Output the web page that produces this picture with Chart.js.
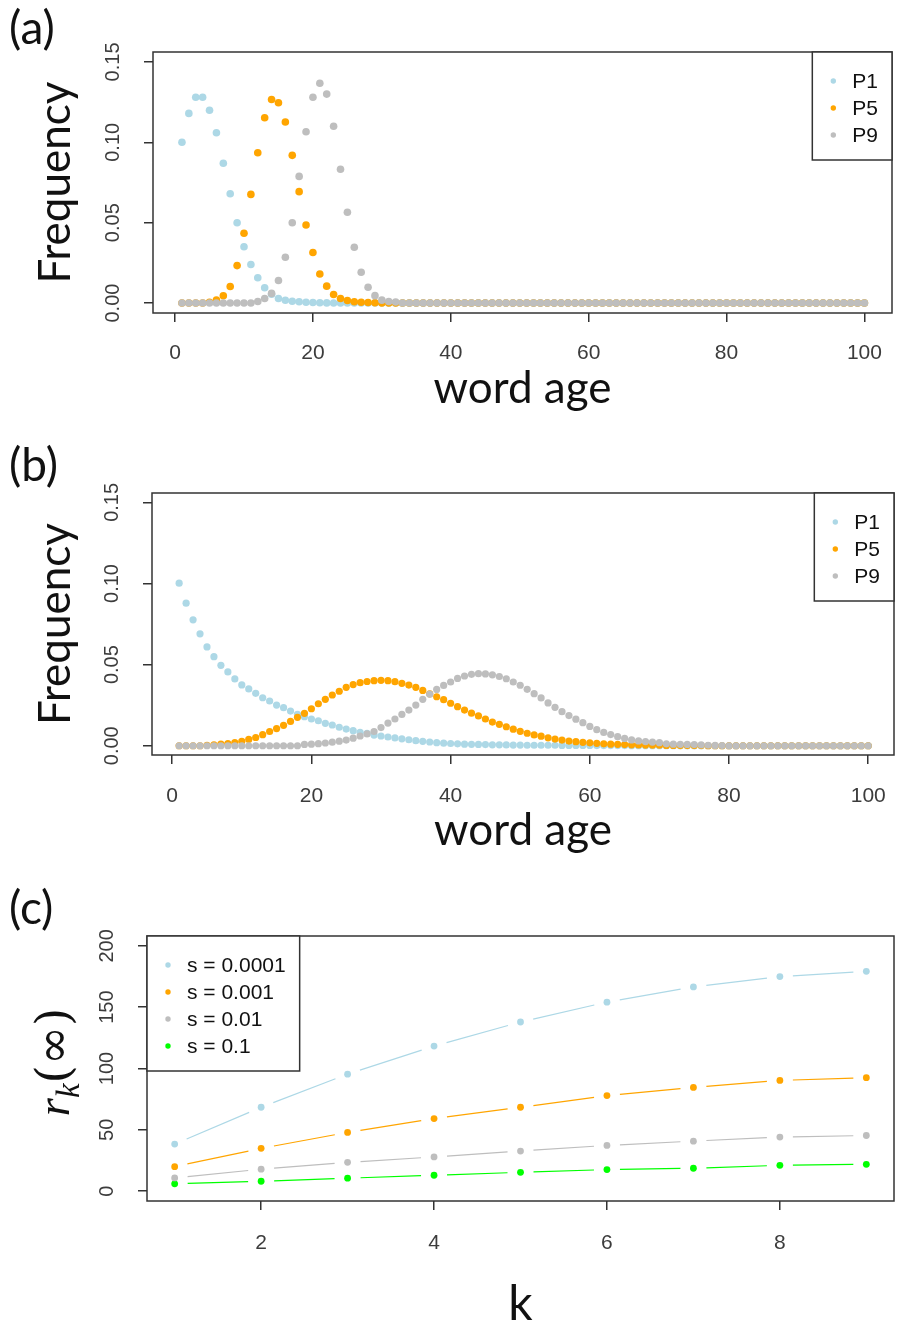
<!DOCTYPE html>
<html>
<head>
<meta charset="utf-8">
<script src="https://cdn.jsdelivr.net/npm/chart.js@4.4.1/dist/chart.umd.min.js"></script>
<style>
  html, body { margin: 0; padding: 0; background: #fff; overflow: hidden; }
  body { width: 898px; height: 1329px; position: relative; }
  canvas { position: absolute; left: 0; }
  .tag { position: absolute; left: 9px; font-family: Lato, sans-serif; font-size: 46px; line-height: 46px; color: #111; }
  #rkTitle { position: absolute; left: 57px; top: 1062px; transform: translate(-50%, -50%) rotate(-90deg);
             white-space: nowrap; line-height: 1; font-size: 47px; color: #111; }
  #rkTitle .it { font-family: "Liberation Serif", serif; font-style: italic; }
  #rkTitle sub { font-size: 33px; }
  #rkTitle .par { font-family: "DejaVu Serif", serif; }
</style>
</head>
<body>
<canvas id="panelA" width="898" height="430" style="top:0px"></canvas>
<canvas id="panelB" width="898" height="430" style="top:440px"></canvas>
<canvas id="panelC" width="898" height="460" style="top:880px"></canvas>
<div class="tag" style="top:4px">(a)</div>
<div class="tag" style="top:441px">(b)</div>
<div class="tag" style="top:884px">(c)</div>
<div id="rkTitle"><span class="it">r</span><sub class="it">k</sub><span class="par">(∞)</span></div>
<script>
// word ages 1..100 (x positions of panels a and b)
const ages = [];
for (let i = 1; i <= 100; i++) ages.push(i);

const seriesNames = ['P1', 'P5', 'P9'];
const seriesColors = ['#ADD8E6', '#FFA500', '#BEBEBE'];

// panel (a)
const p1A = [
  0.100, 0.118, 0.128, 0.128, 0.120, 0.106, 0.087, 0.068, 0.050, 0.035,
  0.024, 0.0157, 0.0095, 0.0055, 0.0028, 0.0017, 0.0011, 0.0008, 0.0005, 0.0003,
  0.0002, 0.0001, 0, 0, 0, 0, 0, 0, 0, 0,
  0, 0, 0, 0, 0, 0, 0, 0, 0, 0,
  0, 0, 0, 0, 0, 0, 0, 0, 0, 0,
  0, 0, 0, 0, 0, 0, 0, 0, 0, 0,
  0, 0, 0, 0, 0, 0, 0, 0, 0, 0,
  0, 0, 0, 0, 0, 0, 0, 0, 0, 0,
  0, 0, 0, 0, 0, 0, 0, 0, 0, 0,
  0, 0, 0, 0, 0, 0, 0, 0, 0, 0
];
const p5A = [
  0, 0, 0, 0, 0.0005, 0.0018, 0.0045, 0.0103, 0.0233, 0.0434,
  0.0676, 0.0935, 0.1153, 0.1266, 0.1246, 0.1126, 0.0919, 0.0693, 0.0486, 0.0314,
  0.0181, 0.0105, 0.0053, 0.0028, 0.0016, 0.0008, 0.0005, 0.0003, 0.0002, 0.0001,
  0.0001, 0.0001, 0, 0, 0, 0, 0, 0, 0, 0,
  0, 0, 0, 0, 0, 0, 0, 0, 0, 0,
  0, 0, 0, 0, 0, 0, 0, 0, 0, 0,
  0, 0, 0, 0, 0, 0, 0, 0, 0, 0,
  0, 0, 0, 0, 0, 0, 0, 0, 0, 0,
  0, 0, 0, 0, 0, 0, 0, 0, 0, 0,
  0, 0, 0, 0, 0, 0, 0, 0, 0, 0
];
const p9A = [
  0, 0, 0, 0, 0, 0, 0, 0, 0, 0,
  0, 0.001, 0.0028, 0.006, 0.014, 0.0285, 0.050, 0.0788, 0.1066, 0.128,
  0.1368, 0.130, 0.110, 0.0832, 0.0565, 0.0347, 0.0192, 0.0098, 0.0046, 0.0018,
  0.001, 0.0006, 0, 0, 0, 0, 0, 0, 0, 0,
  0, 0, 0, 0, 0, 0, 0, 0, 0, 0,
  0, 0, 0, 0, 0, 0, 0, 0, 0, 0,
  0, 0, 0, 0, 0, 0, 0, 0, 0, 0,
  0, 0, 0, 0, 0, 0, 0, 0, 0, 0,
  0, 0, 0, 0, 0, 0, 0, 0, 0, 0,
  0, 0, 0, 0, 0, 0, 0, 0, 0, 0
];

// panel (b)
const p1B = [
  0.1002, 0.0879, 0.0776, 0.0690, 0.0609, 0.0549, 0.0496, 0.0455, 0.0412, 0.0375,
  0.0350, 0.0323, 0.0296, 0.0276, 0.0251, 0.0235, 0.0214, 0.0194, 0.0179, 0.0165,
  0.0154, 0.0138, 0.0128, 0.0114, 0.0103, 0.0093, 0.0083, 0.0076, 0.0066, 0.0060,
  0.0054, 0.0048, 0.0043, 0.0037, 0.0031, 0.0027, 0.0023, 0.0019, 0.0016, 0.0014,
  0.0012, 0.0010, 0.0009, 0.0008, 0.0007, 0.0006, 0.0006, 0.0005, 0.0004, 0.0004,
  0.0003, 0.0003, 0.0003, 0.0003, 0.0003, 0.0002, 0.0002, 0.0002, 0.0002, 0.0002,
  0.0001, 0.0001, 0.0001, 0.0001, 0.0001, 0, 0, 0, 0, 0,
  0, 0, 0, 0, 0, 0, 0, 0, 0, 0,
  0, 0, 0, 0, 0, 0, 0, 0, 0, 0,
  0, 0, 0, 0, 0, 0, 0, 0, 0, 0
];
const p5B = [
  0, 0, 0, 0, 0.0003, 0.0006, 0.0010, 0.0014, 0.0019, 0.0027,
  0.0039, 0.0051, 0.0068, 0.0088, 0.0106, 0.0126, 0.0150, 0.0175, 0.0200, 0.0228,
  0.0259, 0.0286, 0.0313, 0.0336, 0.0360, 0.0377, 0.0389, 0.0396, 0.0401, 0.0403,
  0.0401, 0.0395, 0.0385, 0.0374, 0.0360, 0.0341, 0.0320, 0.0302, 0.0284, 0.0262,
  0.0241, 0.0220, 0.0201, 0.0184, 0.0165, 0.0146, 0.0132, 0.0117, 0.0102, 0.0089,
  0.0077, 0.0067, 0.0059, 0.0049, 0.0041, 0.0035, 0.0029, 0.0025, 0.0021, 0.0018,
  0.0015, 0.0012, 0.0010, 0.0009, 0.0007, 0.0006, 0.0005, 0.0004, 0.0003, 0.0003,
  0.0002, 0.0002, 0.0001, 0.0001, 0.0001, 0.0001, 0, 0, 0, 0,
  0, 0, 0, 0, 0, 0, 0, 0, 0, 0,
  0, 0, 0, 0, 0, 0, 0, 0, 0, 0
];
const p9B = [
  0, 0, 0, 0, 0, 0, 0, 0, 0, 0,
  0, 0, 0, 0, 0, 0, 0, 0, 0.0008, 0.0010,
  0.0013, 0.0017, 0.0022, 0.0028, 0.0035, 0.0047, 0.0060, 0.0073, 0.0088, 0.0112,
  0.0140, 0.0165, 0.0193, 0.0220, 0.0251, 0.0286, 0.0318, 0.0347, 0.0372, 0.0393,
  0.0415, 0.0430, 0.0440, 0.0444, 0.0443, 0.0437, 0.0427, 0.0413, 0.0393, 0.0373,
  0.0348, 0.0321, 0.0295, 0.0264, 0.0237, 0.0210, 0.0186, 0.0164, 0.0142, 0.0119,
  0.0099, 0.0082, 0.0069, 0.0056, 0.0045, 0.0036, 0.0030, 0.0026, 0.0022, 0.0019,
  0.0012, 0.0010, 0.0009, 0.0008, 0.0007, 0.0006, 0.0003, 0.0002, 0.0001, 0,
  0, 0, 0, 0, 0, 0, 0, 0, 0, 0,
  0, 0, 0, 0, 0, 0, 0, 0, 0, 0
];

const ageTicks = [0, 20, 40, 60, 80, 100];
const freqTicks = [0, 0.05, 0.10, 0.15];
const freqTickLabels = ['0.00', '0.05', '0.10', '0.15'];

// panel (c)
const kValues = [1, 2, 3, 4, 5, 6, 7, 8, 9];
const sLabels = ['s = 0.0001', 's = 0.001', 's = 0.01', 's = 0.1'];
const sColors = ['#ADD8E6', '#FFA500', '#BEBEBE', '#00FF00'];
const rS0001 = [38.4, 68.4, 95.4, 118.3, 137.9, 154.1, 166.5, 174.9, 179.2];
const rS001  = [20.0, 34.9, 47.9, 59.2, 68.4, 77.9, 84.6, 90.3, 92.5];
const rS01   = [10.8, 17.9, 23.5, 27.9, 32.7, 37.3, 40.8, 44.1, 45.4];
const rS1    = [6.0, 8.1, 10.6, 13.0, 15.4, 17.6, 18.7, 21.1, 21.9];
const kTicks = [2, 4, 6, 8];
const rTicks = [0, 50, 100, 150, 200];
const rTickLabels = ['0', '50', '100', '150', '200'];

const TICK_FONT = { family: '"Liberation Sans", Arial, sans-serif', size: 21 };
const TITLE_FAMILY = 'Lato, "Open Sans", sans-serif';
const INK = '#333';

function xy(xs, ys) {
  return xs.map((x, i) => ({ x: x, y: ys[i] }));
}

// plot frame
const framePlugin = {
  id: 'frame',
  afterDraw(chart) {
    const { ctx, chartArea: a } = chart;
    ctx.save();
    ctx.strokeStyle = INK;
    ctx.lineWidth = 1.5;
    ctx.strokeRect(a.left, a.top, a.right - a.left, a.bottom - a.top);
    ctx.restore();
  }
};

// vertical-reading y tick labels
const sideLabels = {
  id: 'sideLabels',
  afterDraw(chart, args, opts) {
    const y = chart.scales.y;
    const ctx = chart.ctx;
    ctx.save();
    ctx.font = '20px ' + TICK_FONT.family;
    ctx.fillStyle = '#3c3c3c';
    ctx.textAlign = 'center';
    ctx.textBaseline = 'middle';
    y.ticks.forEach((t, i) => {
      ctx.save();
      ctx.translate(chart.chartArea.left - opts.offset, y.getPixelForValue(t.value));
      ctx.rotate(-Math.PI / 2);
      ctx.fillText(opts.labels[i], 0, 0);
      ctx.restore();
    });
    ctx.restore();
  }
};

// boxed legend in a plot corner
const boxLegend = {
  id: 'boxLegend',
  afterDraw(chart, args, opts) {
    const { ctx, chartArea: a } = chart;
    const items = chart.data.datasets.filter(d => d.label);
    ctx.save();
    ctx.font = '21px "Liberation Sans", Arial, sans-serif';
    const textW = Math.max(...items.map(d => ctx.measureText(d.label).width));
    const w = 40 + textW + 14;
    const h = 29 + 27 * (items.length - 1) + 25;
    const left = opts.side === 'right' ? a.right - w : a.left;
    const top = a.top;
    ctx.fillStyle = '#fff';
    ctx.fillRect(left, top, w, h);
    ctx.strokeStyle = INK;
    ctx.lineWidth = 1.5;
    ctx.strokeRect(left, top, w, h);
    ctx.textBaseline = 'middle';
    items.forEach((d, i) => {
      const cy = top + 29 + 27 * i;
      ctx.fillStyle = d.pointBackgroundColor;
      ctx.beginPath();
      ctx.arc(left + 21, cy, 2.7, 0, Math.PI * 2);
      ctx.fill();
      ctx.fillStyle = '#111';
      ctx.fillText(d.label, left + 40, cy + 1);
    });
    ctx.restore();
  }
};

// line segments that stop short of each point
const gapLines = {
  id: 'gapLines',
  beforeDatasetsDraw(chart, args, opts) {
    if (!opts.gap) return;
    const ctx = chart.ctx;
    ctx.save();
    ctx.lineWidth = 1.2;
    chart.data.datasets.forEach((ds, i) => {
      const pts = chart.getDatasetMeta(i).data;
      ctx.strokeStyle = ds.pointBackgroundColor;
      for (let j = 0; j + 1 < pts.length; j++) {
        const p = pts[j], q = pts[j + 1];
        const dx = q.x - p.x, dy = q.y - p.y;
        const len = Math.hypot(dx, dy);
        if (len <= 2 * opts.gap) continue;
        const ux = dx / len, uy = dy / len;
        ctx.beginPath();
        ctx.moveTo(p.x + ux * opts.gap, p.y + uy * opts.gap);
        ctx.lineTo(q.x - ux * opts.gap, q.y - uy * opts.gap);
        ctx.stroke();
      }
    });
    ctx.restore();
  }
};

function panel(id, p) {
  const tickGrid = { display: true, drawOnChartArea: false, drawTicks: true, tickLength: 9, color: INK, lineWidth: 1.5 };
  return new Chart(document.getElementById(id), {
    type: 'scatter',
    data: { datasets: p.datasets },
    options: {
      responsive: false,
      animation: false,
      devicePixelRatio: 1,
      events: [],
      layout: { padding: p.padding },
      plugins: {
        legend: { display: false },
        tooltip: { enabled: false },
        sideLabels: { offset: 40, labels: p.yLabels },
        boxLegend: { side: p.legendSide },
        gapLines: { gap: p.gap || 0 }
      },
      scales: {
        x: {
          type: 'linear', position: 'bottom', min: p.xMin, max: p.xMax,
          afterBuildTicks: s => { s.ticks = p.xTicks.map(v => ({ value: v })); },
          afterFit: s => { s.height = p.xHeight; s.paddingLeft = 0; s.paddingRight = 0; },
          grid: tickGrid,
          border: { display: false },
          ticks: { font: TICK_FONT, color: '#3c3c3c', padding: p.xPad, maxRotation: 0, autoSkip: false },
          title: { display: true, text: p.xTitle, color: '#111',
                   font: { family: TITLE_FAMILY, size: p.xTitleSize }, padding: 0 }
        },
        y: {
          type: 'linear', min: p.yMin, max: p.yMax,
          afterBuildTicks: s => { s.ticks = p.yTicks.map(v => ({ value: v })); },
          afterFit: s => { s.width = p.yWidth; s.paddingTop = 0; s.paddingBottom = 0; },
          grid: tickGrid,
          border: { display: false },
          ticks: { display: false },
          title: { display: !!p.yTitle, text: p.yTitle || '', color: '#111',
                   font: { family: TITLE_FAMILY, size: 44 }, padding: { top: 19, bottom: 0 } }
        }
      }
    },
    plugins: [framePlugin, sideLabels, boxLegend, gapLines]
  });
}

function ageSets(values, radius) {
  return values.map((vals, i) => ({
    label: seriesNames[i],
    data: xy(ages, vals),
    order: 3 - i,
    pointRadius: radius,
    pointBorderWidth: 0,
    pointBackgroundColor: seriesColors[i],
    pointBorderColor: seriesColors[i]
  }));
}

panel('panelA', {
  datasets: ageSets([p1A, p5A, p9A], 3.8),
  padding: { top: 52, left: 10, right: 6, bottom: 15 },
  xMin: -3.2, xMax: 104, xTicks: ageTicks, xHeight: 102, xPad: 19,
  xTitle: 'word age', xTitleSize: 44,
  yMin: -0.0062, yMax: 0.1562, yTicks: freqTicks, yLabels: freqTickLabels, yWidth: 143,
  yTitle: 'Frequency', legendSide: 'right'
});

panel('panelB', {
  datasets: ageSets([p1B, p5B, p9B], 3.6),
  padding: { top: 53, left: 10, right: 1, bottom: 13 },
  xMin: -2.9, xMax: 103.7, xTicks: ageTicks, xHeight: 102, xPad: 20,
  xTitle: 'word age', xTitleSize: 44,
  yMin: -0.0057, yMax: 0.1558, yTicks: freqTicks, yLabels: freqTickLabels, yWidth: 142,
  yTitle: 'Frequency', legendSide: 'right'
});

const rSeries = [rS0001, rS001, rS01, rS1];
panel('panelC', {
  datasets: rSeries.map((vals, i) => ({
    label: sLabels[i],
    data: xy(kValues, vals),
    pointRadius: 3.4,
    pointBorderWidth: 0,
    pointBackgroundColor: sColors[i],
    pointBorderColor: sColors[i]
  })),
  gap: 13,
  padding: { top: 56, left: 10, right: 0, bottom: 7 },
  xMin: 0.68, xMax: 9.32, xTicks: kTicks, xHeight: 132, xPad: 21,
  xTitle: 'k', xTitleSize: 48,
  yMin: -8, yMax: 208, yTicks: rTicks, yLabels: rTickLabels, yWidth: 137,
  yTitle: '', legendSide: 'left'
});
</script>
</body>
</html>
